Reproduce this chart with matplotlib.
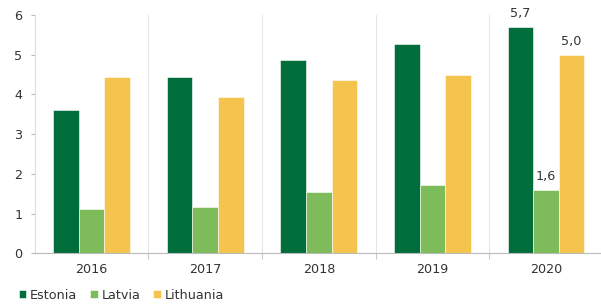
import matplotlib.pyplot as plt
import numpy as np

years = ["2016", "2017", "2018", "2019", "2020"]
estonia = [3.61, 4.45, 4.87, 5.28, 5.7]
latvia = [1.12, 1.17, 1.54, 1.73, 1.6]
lithuania = [4.45, 3.93, 4.36, 4.49, 5.0]
series = ["Estonia", "Latvia", "Lithuania"]
colors = ["#006e3c", "#7dbb5b", "#f4c44e"]

plt.rcParams['font.family'] = ['DejaVu Sans']
txt = "#333333"
fs = 9.2

fig = plt.figure(figsize=(6.01, 3.07), dpi=100)
ax = fig.add_axes([0.058, 0.175, 0.945, 0.776])

x = np.arange(len(years))
w = 0.225
for k, (vals, c, name) in enumerate(zip([estonia, latvia, lithuania], colors, series)):
    ax.bar(x + (k - 1) * w, vals, w, color=c, label=name, edgecolor="white", linewidth=0.4)

# labels on last year
ax.text(x[-1] - w, estonia[-1] + 0.17, "5,7", ha="center", va="bottom", fontsize=fs, color=txt)
ax.text(x[-1], latvia[-1] + 0.17, "1,6", ha="center", va="bottom", fontsize=fs, color=txt)
ax.text(x[-1] + w, lithuania[-1] + 0.17, "5,0", ha="center", va="bottom", fontsize=fs, color=txt)

ax.set_xlim(-0.5, len(years) - 0.5)
ax.set_ylim(0, 6)
ax.set_yticks(range(7))
ax.set_xticks(x)
ax.set_xticklabels(years)
ax.set_xticks(np.arange(0.5, len(years) - 0.5), minor=True)
ax.grid(axis="x", which="minor", color="#e6e6e6", linewidth=0.8)
ax.set_axisbelow(True)

ax.tick_params(axis="x", which="major", length=0, pad=7, labelsize=fs, colors=txt)
ax.tick_params(axis="x", which="minor", length=4, color="#bbbbbb", direction="out")
ax.tick_params(axis="y", length=3, color="#bbbbbb", labelsize=fs, colors=txt, pad=6)

for s in ["top", "right"]:
    ax.spines[s].set_visible(False)
ax.spines["left"].set_color("#dddddd")
ax.spines["bottom"].set_color("#bbbbbb")

leg = fig.legend(loc="lower left", bbox_to_anchor=(0.012, -0.02), ncol=3, frameon=False,
                 fontsize=fs, handlelength=0.6, handleheight=0.6, handletextpad=0.3,
                 columnspacing=1.0, labelcolor=txt)

fig.savefig("out.png", dpi=100)
